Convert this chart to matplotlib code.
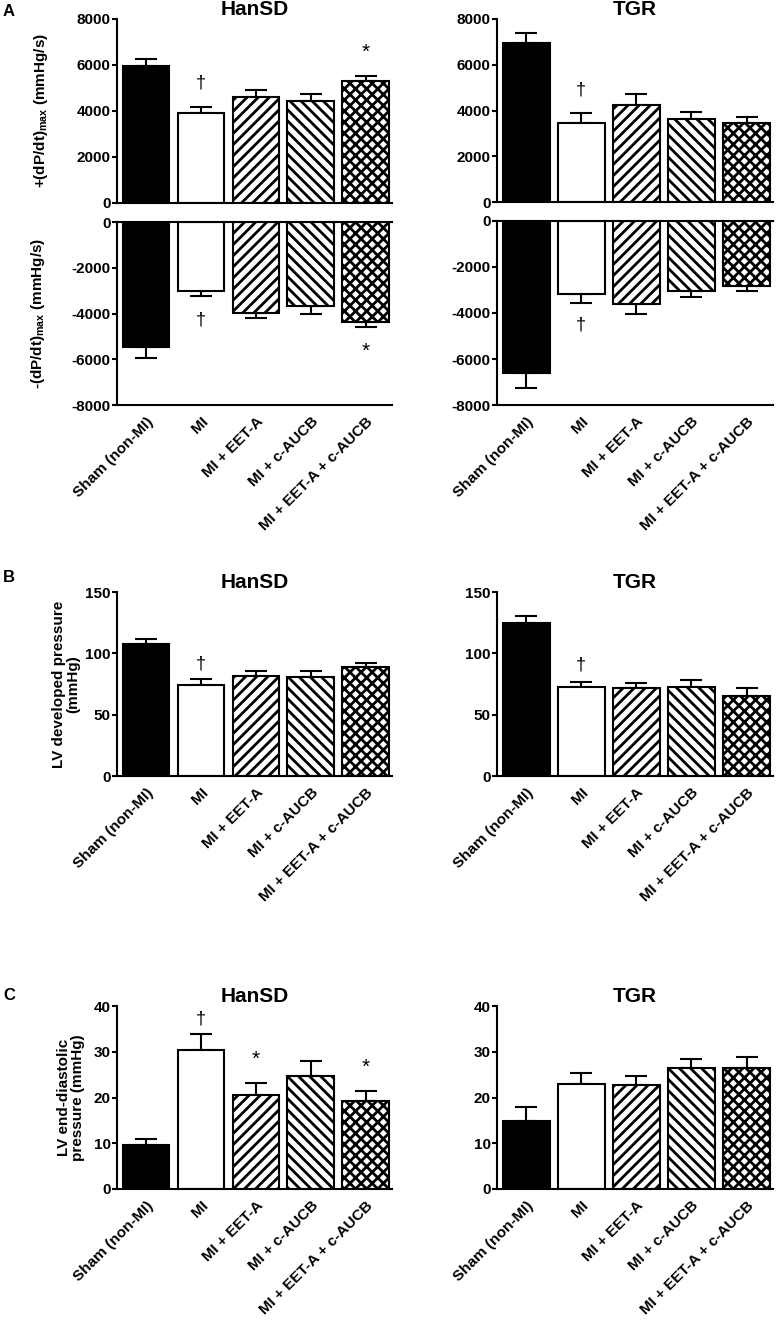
import matplotlib
matplotlib.use("Agg")
import matplotlib.pyplot as plt

plt.rcParams["font.family"] = ["Liberation Sans", "DejaVu Sans"]
plt.rcParams["font.weight"] = "bold"
plt.rcParams["mathtext.default"] = "regular"
plt.rcParams["hatch.linewidth"] = 2.0
plt.rcParams["axes.unicode_minus"] = False

groups = ["Sham (non-MI)", "MI", "MI + EET-A", "MI + c-AUCB", "MI + EET-A + c-AUCB"]
faces = ["black", "white", "white", "white", "white"]
hatches = [None, None, "///", "\\\\\\", "xxx"]

# A: +(dP/dt)max and -(dP/dt)max
dpdt_pos_hansd = [5950, 3900, 4600, 4450, 5300]
dpdt_pos_hansd_sem = [300, 290, 310, 290, 240]
dpdt_neg_hansd = [-5450, -3030, -3970, -3680, -4380]
dpdt_neg_hansd_sem = [490, 220, 220, 360, 230]
dpdt_pos_tgr = [6930, 3460, 4240, 3650, 3460]
dpdt_pos_tgr_sem = [440, 410, 480, 290, 260]
dpdt_neg_tgr = [-6620, -3170, -3610, -3030, -2810]
dpdt_neg_tgr_sem = [630, 380, 450, 260, 220]

# B: LV developed pressure
lvdp_hansd = [107.6, 74.2, 81.5, 80.9, 89.1]
lvdp_hansd_sem = [4.1, 4.6, 3.8, 4.9, 3.3]
lvdp_tgr = [124.7, 72.3, 71.7, 72.8, 65.2]
lvdp_tgr_sem = [5.7, 4.6, 4.3, 5.4, 6.3]

# C: LV end-diastolic pressure
lvedp_hansd = [9.6, 30.4, 20.5, 24.7, 19.3]
lvedp_hansd_sem = [1.3, 3.4, 2.6, 3.3, 2.2]
lvedp_tgr = [14.9, 22.9, 22.7, 26.5, 26.4]
lvedp_tgr_sem = [3.1, 2.5, 1.9, 2.0, 2.5]

W, H = 776, 1320
fig = plt.figure(figsize=(W / 100, H / 100), dpi=100)


def make_ax(x0, x1, y0, y1):
    return fig.add_axes([x0 / W, 1 - y1 / H, (x1 - x0) / W, (y1 - y0) / H])


def bars(ax, vals, sems, ylim, ticks, negative=False, show_x=True):
    x = list(range(len(vals)))
    for i in x:
        ax.bar(i, vals[i], width=0.85, color=faces[i], edgecolor="black",
               linewidth=1.5, hatch=hatches[i], zorder=2)
    if negative:
        yerr = [sems, [0] * len(sems)]
    else:
        yerr = [[0] * len(sems), sems]
    ax.errorbar(x, vals, yerr=yerr, fmt="none", ecolor="black",
                elinewidth=1.5, capsize=8, capthick=1.5, zorder=1)
    ax.set_xlim(-0.53, 4.48)
    ax.set_ylim(*ylim)
    ax.set_yticks(ticks)
    ax.spines["right"].set_visible(False)
    for s in ax.spines.values():
        s.set_linewidth(1.5)
    ax.spines["top"].set_visible(negative)
    ax.tick_params(axis="y", length=3.5, width=1.5, labelsize=11, pad=1)
    ax.tick_params(axis="x", length=0, pad=7)
    ax.set_xticks(x)
    if show_x:
        ax.set_xticklabels(groups, rotation=45, ha="right",
                           rotation_mode="anchor", fontsize=11, fontweight="bold")
    else:
        ax.set_xticklabels([])
    for lab in ax.get_yticklabels():
        lab.set_fontweight("bold")


def mark(ax, i, y, sym, off):
    size = 13 if sym == "†" else 15
    ax.annotate(sym, (i, y), xytext=(0, off), textcoords="offset points",
                ha="center", va="center", fontsize=size, fontweight="normal")


LX = (117, 392)
RX = (497, 773)

# ---- Panel A ----
a1 = make_ax(*LX, 19, 203)
bars(a1, dpdt_pos_hansd, dpdt_pos_hansd_sem, (0, 8000), [0, 2000, 4000, 6000, 8000], show_x=False)
a1.set_title("HanSD", fontsize=15, fontweight="bold", pad=2)
a1.set_ylabel(r"+(dP/dt)$_{max}$ (mmHg/s)", fontsize=11, fontweight="bold")
a1.yaxis.set_label_coords(-0.245, 0.5)
mark(a1, 1, dpdt_pos_hansd[1] + dpdt_pos_hansd_sem[1], "†", 17)
mark(a1, 4, dpdt_pos_hansd[4] + dpdt_pos_hansd_sem[4], "*", 17)

a2 = make_ax(*LX, 222, 405)
bars(a2, dpdt_neg_hansd, dpdt_neg_hansd_sem, (-8000, 0), [-8000, -6000, -4000, -2000, 0], negative=True)
a2.set_ylabel(r"-(dP/dt)$_{max}$ (mmHg/s)", fontsize=11, fontweight="bold")
a2.yaxis.set_label_coords(-0.255, 0.5)
mark(a2, 1, dpdt_neg_hansd[1] - dpdt_neg_hansd_sem[1], "†", -17)
mark(a2, 4, dpdt_neg_hansd[4] - dpdt_neg_hansd_sem[4], "*", -17)

a3 = make_ax(*RX, 19, 202)
bars(a3, dpdt_pos_tgr, dpdt_pos_tgr_sem, (0, 8000), [0, 2000, 4000, 6000, 8000], show_x=False)
a3.set_title("TGR", fontsize=15, fontweight="bold", pad=2)
mark(a3, 1, dpdt_pos_tgr[1] + dpdt_pos_tgr_sem[1], "†", 17)

a4 = make_ax(*RX, 221, 405)
bars(a4, dpdt_neg_tgr, dpdt_neg_tgr_sem, (-8000, 0), [-8000, -6000, -4000, -2000, 0], negative=True)
mark(a4, 1, dpdt_neg_tgr[1] - dpdt_neg_tgr_sem[1], "†", -16)

# ---- Panel B ----
b1 = make_ax(*LX, 592, 776)
bars(b1, lvdp_hansd, lvdp_hansd_sem, (0, 150), [0, 50, 100, 150])
b1.set_title("HanSD", fontsize=15, fontweight="bold", pad=2)
b1.set_ylabel("LV developed pressure\n(mmHg)", fontsize=11, fontweight="bold", linespacing=1.0)
b1.yaxis.set_label_coords(-0.135, 0.5)
mark(b1, 1, lvdp_hansd[1] + lvdp_hansd_sem[1], "†", 11)

b2 = make_ax(*RX, 592, 776)
bars(b2, lvdp_tgr, lvdp_tgr_sem, (0, 150), [0, 50, 100, 150])
b2.set_title("TGR", fontsize=15, fontweight="bold", pad=2)
mark(b2, 1, lvdp_tgr[1] + lvdp_tgr_sem[1], "†", 12)

# ---- Panel C ----
c1 = make_ax(*LX, 1006, 1189)
bars(c1, lvedp_hansd, lvedp_hansd_sem, (0, 40), [0, 10, 20, 30, 40])
c1.set_title("HanSD", fontsize=15, fontweight="bold", pad=2)
c1.set_ylabel("LV end-diastolic\npressure (mmHg)", fontsize=11, fontweight="bold", linespacing=1.0)
c1.yaxis.set_label_coords(-0.116, 0.5)
mark(c1, 1, lvedp_hansd[1] + lvedp_hansd_sem[1], "†", 11)
mark(c1, 2, lvedp_hansd[2] + lvedp_hansd_sem[2], "*", 17)
mark(c1, 4, lvedp_hansd[4] + lvedp_hansd_sem[4], "*", 17)

c2 = make_ax(*RX, 1006, 1189)
bars(c2, lvedp_tgr, lvedp_tgr_sem, (0, 40), [0, 10, 20, 30, 40])
c2.set_title("TGR", fontsize=15, fontweight="bold", pad=2)

# panel letters
fig.text(3 / W, 1 - 11 / H, "A", fontsize=12, fontweight="bold", va="center")
fig.text(3 / W, 1 - 577 / H, "B", fontsize=12, fontweight="bold", va="center")
fig.text(3 / W, 1 - 995 / H, "C", fontsize=12, fontweight="bold", va="center")

fig.savefig("out.png", dpi=100, facecolor="white")
